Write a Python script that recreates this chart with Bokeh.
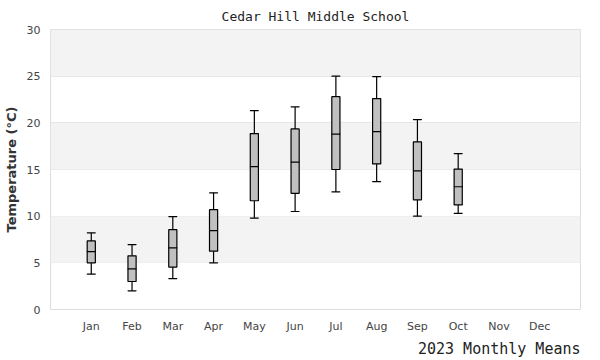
from bokeh.plotting import figure
from bokeh.models import ColumnDataSource, BoxAnnotation, Title, FixedTicker, Range1d
from bokeh.embed import file_html
from bokeh.resources import INLINE

months = ["Jan", "Feb", "Mar", "Apr", "May", "Jun", "Jul", "Aug", "Sep", "Oct", "Nov", "Dec"]
# box stats for months with data (Jan..Oct)
lower = [3.8, 2.0, 3.3, 5.0, 9.8, 10.5, 12.6, 13.7, 10.0, 10.3]
q1 = [5.0, 3.0, 4.55, 6.25, 11.65, 12.45, 15.0, 15.6, 11.75, 11.2]
median = [6.2, 4.35, 6.6, 8.45, 15.3, 15.8, 18.8, 19.05, 14.85, 13.15]
q3 = [7.35, 5.75, 8.55, 10.7, 18.85, 19.35, 22.8, 22.6, 17.95, 15.05]
upper = [8.2, 6.95, 9.95, 12.5, 21.3, 21.7, 25.0, 24.95, 20.35, 16.7]
yticks = [0, 5, 10, 15, 20, 25, 30]

xpos = [i + 1 for i in range(len(lower))]
src = ColumnDataSource(dict(x=xpos, lower=lower, q1=q1, median=median, q3=q3, upper=upper))

p = figure(frame_width=530, frame_height=280, output_backend="svg", toolbar_location=None,
           x_range=Range1d(0, 13), y_range=Range1d(0, 30),
           min_border_left=0, min_border_right=12, min_border_top=0, min_border_bottom=0)

p.title.text = "Cedar Hill Middle School"
p.title.align = "center"
p.title.text_font = "DejaVu Sans Mono"
p.title.text_font_size = "13px"
p.title.text_font_style = "normal"
p.title.text_color = "#222222"
p.title.standoff = 12

# alternating bands
for lo in (5, 15, 25):
    p.add_layout(BoxAnnotation(bottom=lo, top=lo + 5, fill_color="#f3f3f3", fill_alpha=1.0,
                               line_alpha=0, level="underlay"))

p.outline_line_color = "#dddddd"
p.outline_line_width = 1
p.xgrid.grid_line_color = None
p.ygrid.grid_line_color = "#e3e3e3"
p.ygrid.ticker = FixedTicker(ticks=yticks)

p.yaxis.ticker = FixedTicker(ticks=yticks)
p.xaxis.ticker = FixedTicker(ticks=list(range(1, 13)))
p.xaxis.major_label_overrides = {i + 1: m for i, m in enumerate(months)}

for ax in (p.xaxis[0], p.yaxis[0]):
    ax.axis_line_color = None
    ax.major_tick_line_color = None
    ax.minor_tick_line_color = None
    ax.major_tick_out = 0
    ax.major_tick_in = 0
    ax.major_label_text_font = "DejaVu Sans"
    ax.major_label_text_font_size = "11px"
    ax.major_label_text_color = "#444444"
p.yaxis.major_label_standoff = 10
p.xaxis.major_label_standoff = 10

p.yaxis.axis_label = "Temperature (°C)"
p.yaxis.axis_label_text_font = "DejaVu Sans"
p.yaxis.axis_label_text_font_size = "13px"
p.yaxis.axis_label_text_font_style = "bold"
p.yaxis.axis_label_text_color = "#333333"
p.yaxis.axis_label_standoff = 5

p.add_layout(Title(text="2023 Monthly Means", align="right", text_font="DejaVu Sans Mono",
                   text_font_size="15px", text_font_style="normal", text_color="#222222",
                   standoff=4), "below")

w = 0.2
p.segment(x0="x", y0="q3", x1="x", y1="upper", source=src, line_color="black", line_width=1.2)
p.segment(x0="x", y0="lower", x1="x", y1="q1", source=src, line_color="black", line_width=1.2)
p.vbar(x="x", width=w, top="q3", bottom="q1", source=src, fill_color="#c0c0c0",
       line_color="black", line_width=1.2)
p.rect(x="x", y="median", width=w, height=0.001, source=src, line_color="black", line_width=1.2)
p.rect(x="x", y="upper", width=w, height=0.001, source=src, line_color="black", line_width=1.2)
p.rect(x="x", y="lower", width=w, height=0.001, source=src, line_color="black", line_width=1.2)

open("out.html", "w").write(file_html(p, INLINE))
